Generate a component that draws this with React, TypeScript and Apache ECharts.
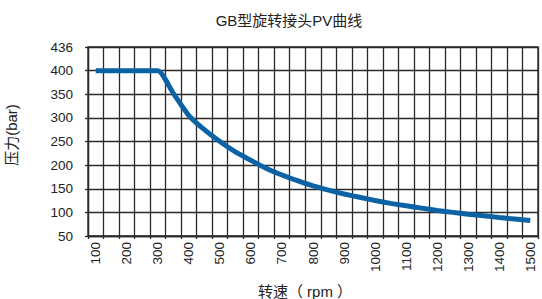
import React, { useEffect, useRef } from "react";
import * as echarts from "echarts";

const rpmCategories = [
  "100", "150", "200", "250", "300", "350", "400", "450", "500", "550",
  "600", "650", "700", "750", "800", "850", "900", "950", "1000", "1050",
  "1100", "1150", "1200", "1250", "1300", "1350", "1400", "1450", "1500",
];
const pressureValues = [
  400, 400, 400, 400, 400, 352, 305, 275, 250, 228,
  210, 193, 179, 167, 156, 147, 139, 132, 125, 119,
  114, 109, 104, 100, 96, 93, 89, 86, 83,
];
// y-axis tick values and the labels printed beside them (top line is labelled 436)
const yTickValues = [50, 100, 150, 200, 250, 300, 350, 400, 450];
const yTickLabels = ["50", "100", "150", "200", "250", "300", "350", "400", "436"];
const yInterval = 50;

const titleText = "GB型旋转接头PV曲线";
const yName = "压力(bar)";
const xName = "转速（ rpm ）";

const FONT = "'Liberation Sans', Arial, 'Noto Sans CJK SC', sans-serif";
const GRID_COLOR = "#2a2a2a";

export default function App() {
  const ref = useRef<HTMLDivElement>(null);
  useEffect(() => {
    if (!ref.current) return;
    const chart = echarts.init(ref.current, undefined, { renderer: "svg" });
    chart.setOption({
      animation: false,
      backgroundColor: "#ffffff",
      textStyle: { fontFamily: FONT },
      grid: {
        left: 88,
        right: 4,
        top: 47,
        bottom: 63,
        show: true,
        borderColor: GRID_COLOR,
        borderWidth: 1.3,
      },
      graphic: [
        {
          type: "text",
          x: 289,
          y: 20,
          style: {
            text: titleText,
            fontSize: 15,
            fontFamily: FONT,
            fill: "#222",
            align: "center",
            verticalAlign: "middle",
          },
        },
        {
          type: "text",
          x: 11,
          y: 135,
          rotation: Math.PI / 2,
          style: {
            text: yName,
            fontSize: 15,
            fontFamily: FONT,
            fill: "#222",
            align: "center",
            verticalAlign: "middle",
          },
        },
        {
          type: "text",
          x: 305,
          y: 291,
          style: {
            text: xName,
            fontSize: 15,
            fontFamily: FONT,
            fill: "#222",
            align: "center",
            verticalAlign: "middle",
          },
        },
      ],
      xAxis: {
        type: "category",
        data: rpmCategories,
        boundaryGap: true,
        axisLine: { show: true, lineStyle: { color: GRID_COLOR, width: 1.3 } },
        axisTick: {
          show: true,
          interval: 0,
          length: 3,
          lineStyle: { color: GRID_COLOR, width: 1.3 },
        },
        splitLine: {
          show: true,
          interval: 0,
          lineStyle: { color: GRID_COLOR, width: 1.3 },
        },
        axisLabel: {
          interval: 1,
          rotate: 90,
          margin: 6,
          fontSize: 13.5,
          color: "#222",
          fontFamily: FONT,
        },
      },
      yAxis: {
        type: "value",
        min: yTickValues[0],
        max: yTickValues[yTickValues.length - 1],
        interval: yInterval,
        axisLine: { show: true, lineStyle: { color: GRID_COLOR, width: 1.3 } },
        axisTick: {
          show: true,
          length: 3,
          lineStyle: { color: GRID_COLOR, width: 1.3 },
        },
        splitLine: { show: true, lineStyle: { color: GRID_COLOR, width: 1.3 } },
        axisLabel: {
          margin: 15,
          fontSize: 13.5,
          color: "#222",
          fontFamily: FONT,
          showMaxLabel: true,
          formatter: (v: number) => {
            const i = yTickValues.indexOf(v);
            return i >= 0 ? yTickLabels[i] : String(v);
          },
        },
      },
      series: [
        {
          type: "line",
          data: pressureValues,
          symbol: "none",
          smooth: 0.2,
          lineStyle: { color: "#0b63a5", width: 5, cap: "butt", join: "round" },
        },
      ],
    });
    return () => chart.dispose();
  }, []);
  return (
    <div
      ref={ref}
      style={{ position: "fixed", left: 0, top: 0, width: 542, height: 299 }}
    />
  );
}
